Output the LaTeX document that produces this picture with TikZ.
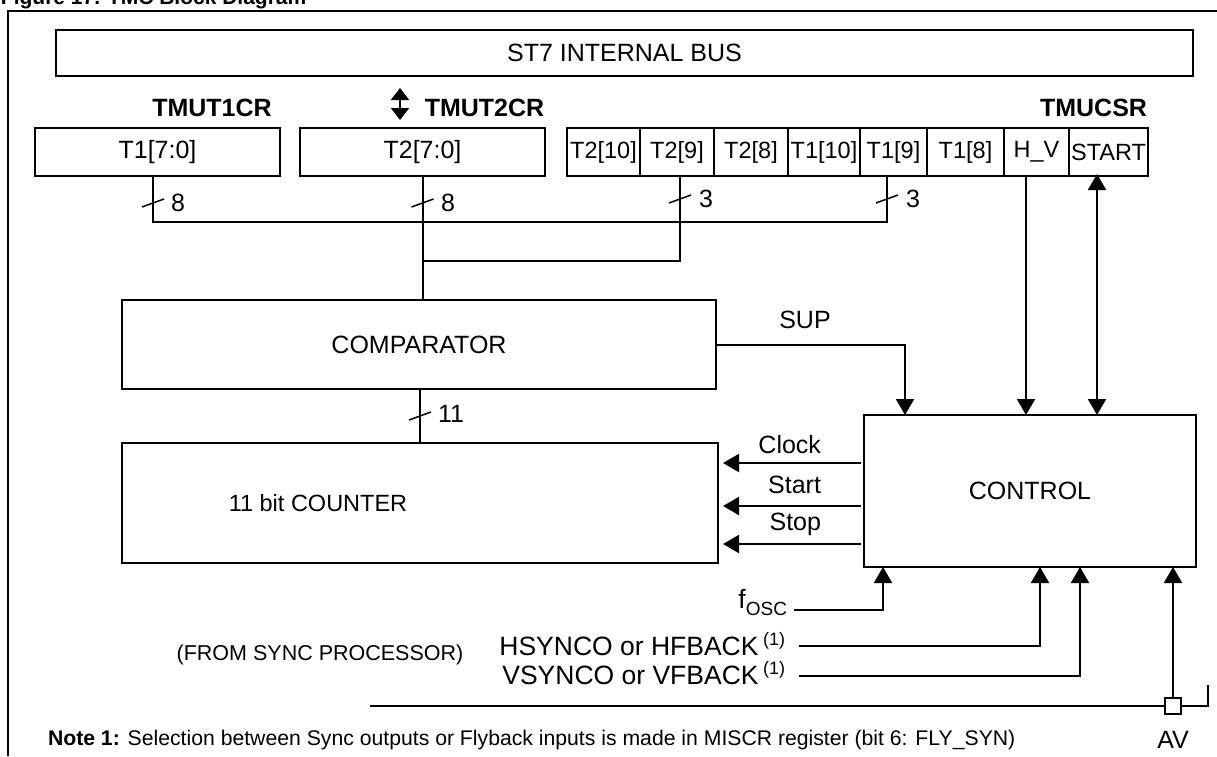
\documentclass[tikz,border=0pt]{standalone}
\usepackage{fontspec}
\setmainfont{Liberation Sans}
\usetikzlibrary{arrows.meta}
\newcommand\fnmark{\,\raisebox{10pt}{\fontsize{18}{20}\selectfont(1)}}
\newcommand\oscsub{\raisebox{-7pt}{\fontsize{19}{20}\selectfont OSC}}
\begin{document}
\begin{tikzpicture}[x=1pt,y=-1pt,
  line width=2pt,
  >={Triangle[length=16pt,width=18pt]},
  box/.style={draw,line width=2.2pt,inner sep=0pt,outer sep=0pt,font=\fontsize{25}{30}\selectfont},
  cell/.style={box,minimum height=48pt,font=\fontsize{23.5}{28}\selectfont},
  lbl/.style={inner sep=0pt,font=\fontsize{25}{30}\selectfont},
  inlbl/.style={inner sep=0pt,font=\fontsize{26.5}{31}\selectfont},
  blbl/.style={inner sep=0pt,font=\fontsize{25}{30}\selectfont\bfseries},
  smalltxt/.style={inner sep=0pt,font=\fontsize{21.5}{26}\selectfont},
  notetxt/.style={inner sep=0pt,font=\fontsize{21.2}{26}\selectfont},
  slashmark/.style={line width=1.5pt}]
\useasboundingbox (0,0) rectangle (1217,756);
\clip (0,0) rectangle (1217,756);

% title (cut by the page top)
\node[inner sep=0pt, anchor=base west, font=\fontsize{21}{24}\selectfont\bfseries] (title) at (0,4) {Figure 17. TMC Block Diagram};

% frame
\draw (1217,11) -- (8,11) -- (8,756);

% bus
\node[box, minimum width=1137pt, minimum height=46pt] (bus) at (624.5,53) {ST7 INTERNAL BUS};
\coordinate (ar1) at (400,88);
\coordinate (ar2) at (400,120);
\draw[<->, >={Triangle[length=12pt,width=18pt]}] (ar1) -- (ar2);

% register titles
\node[blbl] (l1) at (212,108) {TMUT1CR};
\node[blbl] (l2) at (484.5,108) {TMUT2CR};
\node[blbl, anchor=east] (l3) at (1148,108) {TMUCSR};

% registers
\node[box, minimum width=245pt, minimum height=48pt] (t1) at (157.5,152) {T1[7:0]};
\node[box, minimum width=245pt, minimum height=48pt] (t2) at (422.5,152) {T2[7:0]};
\node[cell, minimum width=73pt] (c1) at (603.5,152) {T2[10]};
\node[cell, minimum width=74pt] (c2) at (677,152) {T2[9]};
\node[cell, minimum width=74pt] (c3) at (751,152) {T2[8]};
\node[cell, minimum width=72pt] (c4) at (824,152) {T1[10]};
\node[cell, minimum width=67pt] (c5) at (893.5,152) {T1[9]};
\node[cell, minimum width=77pt] (c6) at (965.5,152) {T1[8]};
\node[cell, minimum width=65pt] (c7) at (1036.5,152) {H\_V};
\node[cell, minimum width=79pt] (c8) at (1108.5,152) {START};

% blocks
\node[box, minimum width=594pt, minimum height=89pt] (comp) at (419,344.5) {COMPARATOR};
\node[box, minimum width=596pt, minimum height=120pt] (cnt) at (420,503) {};
\node[inner sep=0pt, font=\fontsize{23.5}{28}\selectfont] (cntl) at (318,503) {11 bit COUNTER};
\node[box, minimum width=332pt, minimum height=152pt] (ctrl) at (1030,491) {CONTROL};

% bus wiring from registers
\coordinate (b1) at (0,222);
\coordinate (b2) at (0,261);
\coordinate (x1) at (153,0);
\coordinate (x5) at (887,0);
\coordinate (x2) at (422.5,0);
\coordinate (x9) at (680,0);
\draw (t1.south -| x1) -- (b1 -| x1) -- (b1 -| x5) -- (c5.south -| x5);
\draw (t2.south -| x2) -- (comp.north -| x2);
\draw (c2.south -| x9) -- (b2 -| x9) -- (b2 -| x2);
\coordinate (x11) at (420,0);
\draw (comp.south -| x11) -- (cnt.north -| x11);

% width marks
\draw[slashmark] (142,207) -- (164,199);
\node[lbl, anchor=west] (n8a) at (170,203) {8};
\draw[slashmark] (411.5,207) -- (433.5,199);
\node[lbl, anchor=west] (n8b) at (440,203) {8};
\draw[slashmark] (669,203) -- (691,195);
\node[lbl, anchor=west] (n3a) at (698,199) {3};
\draw[slashmark] (876,203) -- (898,195);
\node[lbl, anchor=west] (n3b) at (905,199) {3};
\draw[slashmark] (409,420) -- (431,412);
\node[lbl, anchor=west] (n11) at (437,414) {11};

% SUP
\coordinate (xs) at (905,0);
\draw[->] (comp.east) -| (ctrl.north -| xs);
\node[lbl] (sup) at (805,320) {SUP};

% H_V and START
\coordinate (xhv) at (1026,0);
\coordinate (xst) at (1097,0);
\draw[->] (c7.south -| xhv) -- (ctrl.north -| xhv);
\draw[<->] ([yshift=2pt]c8.south -| xst) -- (ctrl.north -| xst);

% Clock / Start / Stop
\coordinate (yc) at (0,463);
\coordinate (ys) at (0,506);
\coordinate (yp) at (0,544);
\draw[->, shorten <=3pt, shorten >=5pt] (ctrl.west |- yc) -- (cnt.east |- yc);
\draw[->, shorten <=3pt, shorten >=5pt] (ctrl.west |- ys) -- (cnt.east |- ys);
\draw[->, shorten <=3pt, shorten >=5pt] (ctrl.west |- yp) -- (cnt.east |- yp);
\node[lbl, anchor=base east] (lclk) at (822,453) {Clock};
\node[lbl, anchor=base east] (lsta) at (822,493) {Start};
\node[lbl, anchor=base east] (lsto) at (822,530) {Stop};

% inputs to CONTROL
\node[inlbl, anchor=base east] (fosc) at (788,608) {f\oscsub};
\node[inlbl, anchor=base east] (hs) at (786,655) {HSYNCO or HFBACK\fnmark};
\node[inlbl, anchor=base east] (vs) at (786,684) {VSYNCO or VFBACK\fnmark};
\node[smalltxt] (from) at (320,655) {(FROM SYNC PROCESSOR)};
\coordinate (f0) at (794,610);
\coordinate (h0) at (799,646);
\coordinate (v0) at (799,676);
\coordinate (xf) at (883,0);
\coordinate (xh) at (1040,0);
\coordinate (xv) at (1080,0);
\draw[->] (f0) -| (ctrl.south -| xf);
\draw[->] (h0) -| (ctrl.south -| xh);
\draw[->] (v0) -| (ctrl.south -| xv);

% AV
\node[draw, line width=2pt, fill=white, minimum size=16pt, inner sep=0pt] (sq) at (1173,706) {};
\coordinate (bl) at (370,706);
\coordinate (br) at (1208,706);
\coordinate (bt) at (1208,685);
\draw (bl) -- (sq.west);
\draw (sq.east) -- (br) -- (bt);
\draw[->] (sq.north) -- (ctrl.south -| sq.north);
\node[lbl, anchor=base] (av) at (1173,748) {AV};

% note
\node[notetxt, anchor=base west] (note) at (47,745) {\textbf{Note 1:} Selection between Sync outputs or Flyback inputs is made in MISCR register (bit 6: FLY\_SYN)};
\end{tikzpicture}
\end{document}
